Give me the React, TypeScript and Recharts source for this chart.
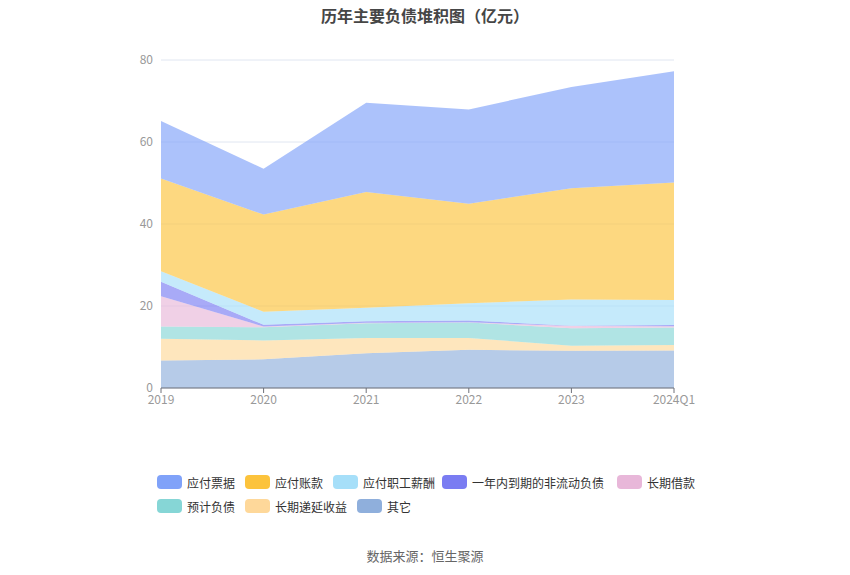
import React from 'react';
import { AreaChart, Area, XAxis, YAxis, CartesianGrid } from 'recharts';

const categories = ['2019', '2020', '2021', '2022', '2023', '2024Q1'];
const other = [6.7, 7.0, 8.5, 9.3, 9.1, 9.15];
const deferredIncome = [5.3, 4.6, 3.7, 2.9, 1.2, 1.35];
const provisions = [3.0, 3.2, 3.6, 3.75, 4.3, 4.25];
const longLoans = [7.4, 0.2, 0.1, 0.1, 0.5, 0.3];
const currentNonCurrent = [3.5, 0.4, 0.4, 0.4, 0.1, 0.3];
const payroll = [2.6, 3.2, 3.3, 4.2, 6.4, 6.1];
const accountsPayable = [22.6, 23.7, 28.2, 24.3, 27.1, 28.7];
const notesPayable = [14.0, 11.2, 21.8, 23.0, 24.7, 27.1];
const yTicks = [0, 20, 40, 60, 80];

const series = [
  { key: 'other', name: '其它', values: other, color: '#8fafdc' },
  { key: 'deferred', name: '长期递延收益', values: deferredIncome, color: '#fed89a' },
  { key: 'prov', name: '预计负债', values: provisions, color: '#86d6d6' },
  { key: 'loans', name: '长期借款', values: longLoans, color: '#e8b7d9' },
  { key: 'cnc', name: '一年内到期的非流动负债', values: currentNonCurrent, color: '#7a7cf2' },
  { key: 'payroll', name: '应付职工薪酬', values: payroll, color: '#a6dff9' },
  { key: 'ap', name: '应付账款', values: accountsPayable, color: '#fcc33c' },
  { key: 'np', name: '应付票据', values: notesPayable, color: '#80a2f9' },
];

const data = categories.map((c, i) => {
  const row: Record<string, string | number> = { name: c };
  series.forEach((s) => {
    row[s.key] = s.values[i];
  });
  return row;
});

const legendOrder = ['np', 'ap', 'payroll', 'cnc', 'loans', 'prov', 'deferred', 'other'];
const legendX = [157, 245, 333, 442, 617, 157, 245, 357];
const legendY = [475, 475, 475, 475, 475, 499, 499, 499];

export default function App() {
  return (
    <div
      style={{
        position: 'absolute',
        left: 0,
        top: 0,
        width: 850,
        height: 575,
        background: '#fff',
        fontFamily: '"Noto Sans CJK SC", "Noto Sans", sans-serif',
      }}
    >
      <div
        style={{
          position: 'absolute',
          top: 3,
          left: 0,
          width: 850,
          textAlign: 'center',
          fontSize: 16,
          fontWeight: 'bold',
          color: '#464646',
        }}
      >
        历年主要负债堆积图（亿元）
      </div>
      <AreaChart width={850} height={575} data={data} margin={{ top: 60, right: 176, bottom: 157, left: 121 }}>
        <CartesianGrid vertical={false} stroke="#e0e6f1" />
        <XAxis
          dataKey="name"
          height={30}
          axisLine={{ stroke: '#6e7079' }}
          tickLine={{ stroke: '#6e7079' }}
          tick={{ fill: '#999', fontSize: 12 }}
          interval={0}
          tickSize={5}
        />
        <YAxis
          width={40}
          domain={[0, 80]}
          ticks={yTicks}
          axisLine={false}
          tickLine={false}
          tick={{ fill: '#999', fontSize: 12 }}
        />
        {series.map((s) => (
          <Area
            key={s.key}
            dataKey={s.key}
            name={s.name}
            stackId="1"
            type="linear"
            stroke="none"
            fill={s.color}
            fillOpacity={0.65}
            isAnimationActive={false}
            dot={false}
            activeDot={false}
          />
        ))}
      </AreaChart>
      {legendOrder.map((k, i) => {
        const s = series.find((x) => x.key === k)!;
        return (
          <div
            key={k}
            style={{
              position: 'absolute',
              left: legendX[i],
              top: legendY[i],
              display: 'flex',
              alignItems: 'center',
              height: 14,
            }}
          >
            <div style={{ width: 25, height: 14, borderRadius: 4, background: s.color }} />
            <span style={{ marginLeft: 5, fontSize: 12, color: '#333', whiteSpace: 'nowrap' }}>{s.name}</span>
          </div>
        );
      })}
      <div
        style={{
          position: 'absolute',
          top: 546,
          left: 0,
          width: 850,
          textAlign: 'center',
          fontSize: 13,
          color: '#666',
        }}
      >
        数据来源：恒生聚源
      </div>
    </div>
  );
}
